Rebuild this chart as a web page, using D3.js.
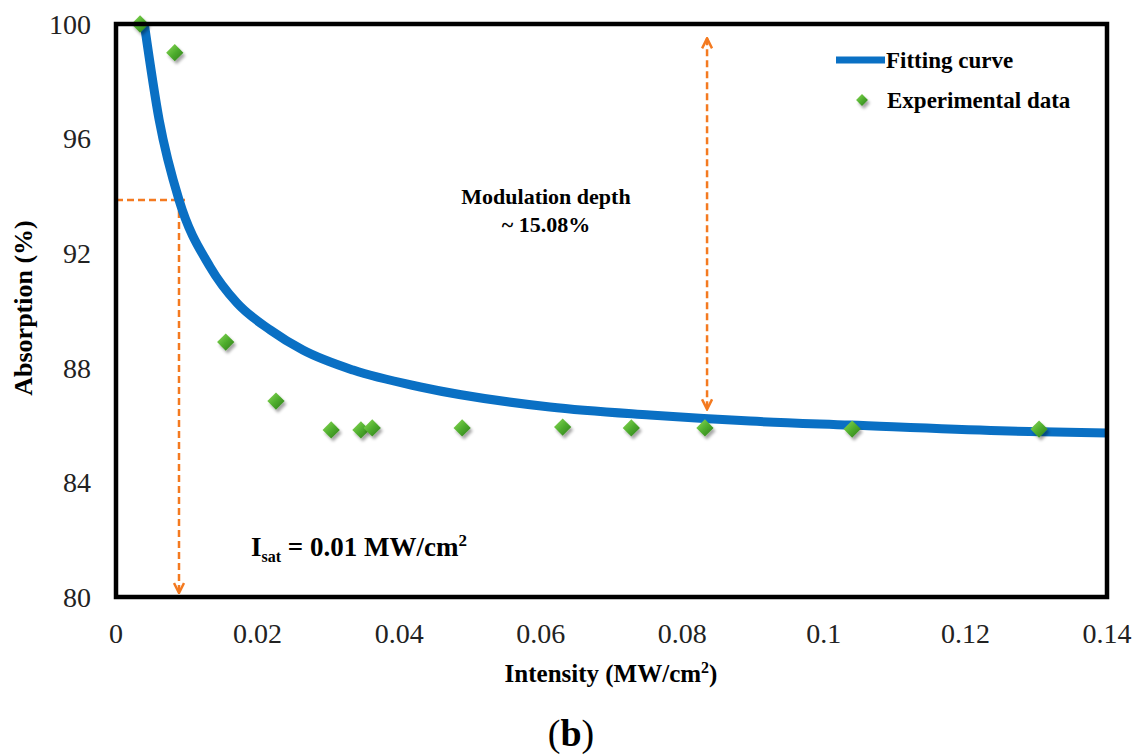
<!DOCTYPE html>
<html>
<head>
<meta charset="utf-8">
<script src="https://cdn.jsdelivr.net/npm/d3@7"></script>
<style>
  body { margin: 0; background: #fff; }
  svg text { font-family: "Liberation Serif", "Times New Roman", serif; }
</style>
</head>
<body>
<svg id="chart" width="1142" height="756"></svg>
<script>
// Experimental points.
var expIntensity = [0.0034, 0.0083, 0.0155, 0.0226, 0.0304, 0.0346, 0.0362, 0.0489, 0.0631, 0.0728, 0.0832, 0.1040, 0.1304];
var expAbsorption = [100, 99.0, 88.9, 86.84, 85.83, 85.83, 85.9, 85.9, 85.93, 85.9, 85.9, 85.86, 85.86];

// Fitting curve.
var fitIntensity = [0.0040, 0.0061, 0.0089, 0.0133, 0.0171, 0.0218, 0.0264, 0.0335, 0.0430, 0.0613, 0.0754, 0.0896, 0.1037, 0.1249, 0.14];
var fitAbsorption = [100, 96.65, 93.86, 91.52, 90.26, 89.32, 88.62, 87.92, 87.33, 86.63, 86.35, 86.14, 86.00, 85.80, 85.72];

var xTicks = [0, 0.02, 0.04, 0.06, 0.08, 0.1, 0.12, 0.14];
var yTicks = [80, 84, 88, 92, 96, 100];

// Annotation anchors (data units).
var isat = {x: 0.0089, y: 93.86};
var modDepth = {x: 0.0835, top: 99.5, bottom: 86.55};

var orange = "#f47a20", blue = "#0a70c4";

var svg = d3.select("#chart");
var x = d3.scaleLinear().domain([0, 0.14]).range([116, 1107]);
var y = d3.scaleLinear().domain([80, 100]).range([597, 24]);

// Defs: arrow heads and a shaded diamond.
var defs = svg.append("defs");
defs.append("marker").attr("id", "arrow")
  .attr("viewBox", "0 0 10 10").attr("refX", 9).attr("refY", 5)
  .attr("markerWidth", 5).attr("markerHeight", 5).attr("orient", "auto-start-reverse")
  .attr("markerUnits", "strokeWidth")
  .append("path").attr("d", "M1,1 L9,5 L1,9").attr("fill", "none")
  .attr("stroke", orange).attr("stroke-width", 2).attr("stroke-linejoin", "miter");
var grad = defs.append("linearGradient").attr("id", "gem")
  .attr("x1", "0").attr("y1", "0").attr("x2", "1").attr("y2", "1");
grad.append("stop").attr("offset", "0").attr("stop-color", "#8fdc5a");
grad.append("stop").attr("offset", "0.5").attr("stop-color", "#4fae2e");
grad.append("stop").attr("offset", "1").attr("stop-color", "#2c7a18");
defs.append("filter").attr("id", "shadow").attr("x", "-50%").attr("y", "-50%").attr("width", "200%").attr("height", "200%")
  .append("feDropShadow").attr("dx", 2).attr("dy", 3).attr("stdDeviation", 1.5)
  .attr("flood-color", "#000").attr("flood-opacity", 0.35);

// Tick labels.
svg.append("g").selectAll("text").data(yTicks).join("text")
  .attr("x", 91).attr("y", function(d){ return y(d); }).attr("dy", "0.35em")
  .attr("text-anchor", "end").attr("font-size", 28).attr("fill", "#222")
  .text(function(d){ return d; });
svg.append("g").selectAll("text").data(xTicks).join("text")
  .attr("x", function(d){ return x(d); }).attr("y", 643)
  .attr("text-anchor", "middle").attr("font-size", 28).attr("fill", "#222")
  .text(function(d){ return d; });

// Axis titles.
var xt = svg.append("text").attr("x", 611).attr("y", 682).attr("text-anchor", "middle")
  .attr("font-size", 25).attr("font-weight", "bold");
xt.append("tspan").text("Intensity (MW/cm");
xt.append("tspan").attr("font-size", 16).attr("dy", -9).text("2");
xt.append("tspan").attr("dy", 9).text(")");
svg.append("text").attr("transform", "translate(32,308) rotate(-90)")
  .attr("text-anchor", "middle").attr("font-size", 26).attr("font-weight", "bold")
  .text("Absorption (%)");

// Isat guide lines.
svg.append("line").attr("x1", x(0)).attr("x2", x(isat.x) + 6)
  .attr("y1", y(isat.y)).attr("y2", y(isat.y))
  .attr("stroke", orange).attr("stroke-width", 2.5).attr("stroke-dasharray", "7,4");
svg.append("line").attr("x1", x(isat.x)).attr("x2", x(isat.x))
  .attr("y1", y(isat.y)).attr("y2", y(80) - 4)
  .attr("stroke", orange).attr("stroke-width", 2.5).attr("stroke-dasharray", "7,4")
  .attr("marker-end", "url(#arrow)");

// Modulation depth arrow.
svg.append("line").attr("x1", x(modDepth.x)).attr("x2", x(modDepth.x))
  .attr("y1", y(modDepth.top)).attr("y2", y(modDepth.bottom))
  .attr("stroke", orange).attr("stroke-width", 2.5).attr("stroke-dasharray", "7,4")
  .attr("marker-start", "url(#arrow)").attr("marker-end", "url(#arrow)");

// Fitting curve.
var fit = fitIntensity.map(function(d, i){ return [d, fitAbsorption[i]]; });
svg.append("path").datum(fit)
  .attr("d", d3.line().x(function(d){ return x(d[0]); }).y(function(d){ return y(d[1]); }).curve(d3.curveMonotoneX))
  .attr("fill", "none").attr("stroke", blue).attr("stroke-width", 9);

// Experimental points.
var diamond = d3.symbol().type(d3.symbolDiamond2).size(190);
svg.append("g").selectAll("path").data(expIntensity).join("path")
  .attr("transform", function(d, i){ return "translate(" + x(d) + "," + y(expAbsorption[i]) + ")"; })
  .attr("d", diamond).attr("fill", "url(#gem)").attr("filter", "url(#shadow)");

// Frame.
svg.append("rect").attr("x", x(0)).attr("y", y(100))
  .attr("width", x(0.14) - x(0)).attr("height", y(80) - y(100))
  .attr("fill", "none").attr("stroke", "#000").attr("stroke-width", 4.5);

// Annotations.
svg.append("text").attr("x", 546).attr("y", 204).attr("text-anchor", "middle")
  .attr("font-size", 22).attr("font-weight", "bold").text("Modulation depth");
svg.append("text").attr("x", 546).attr("y", 232).attr("text-anchor", "middle")
  .attr("font-size", 22).attr("font-weight", "bold").text("~ 15.08%");
var it = svg.append("text").attr("x", 251).attr("y", 556)
  .attr("font-size", 27).attr("font-weight", "bold");
it.append("tspan").text("I");
it.append("tspan").attr("font-size", 16).attr("dy", 6).text("sat");
it.append("tspan").attr("dy", -6).text(" = 0.01 MW/cm");
it.append("tspan").attr("font-size", 17).attr("dy", -10).text("2");

// Legend.
var legend = svg.append("g");
legend.append("line").attr("x1", 836).attr("x2", 885).attr("y1", 60).attr("y2", 60)
  .attr("stroke", blue).attr("stroke-width", 7);
legend.append("text").attr("x", 886).attr("y", 68).attr("font-size", 23).attr("font-weight", "bold").text("Fitting curve");
legend.append("path").attr("transform", "translate(862,100)")
  .attr("d", d3.symbol().type(d3.symbolDiamond2).size(90)).attr("fill", "url(#gem)").attr("filter", "url(#shadow)");
legend.append("text").attr("x", 887).attr("y", 108).attr("font-size", 23).attr("font-weight", "bold").text("Experimental data");

// Panel label.
var pl = svg.append("text").attr("x", 571).attr("y", 746).attr("text-anchor", "middle").attr("font-size", 38);
pl.append("tspan").text("(");
pl.append("tspan").attr("font-weight", "bold").text("b");
pl.append("tspan").text(")");
</script>
</body>
</html>
